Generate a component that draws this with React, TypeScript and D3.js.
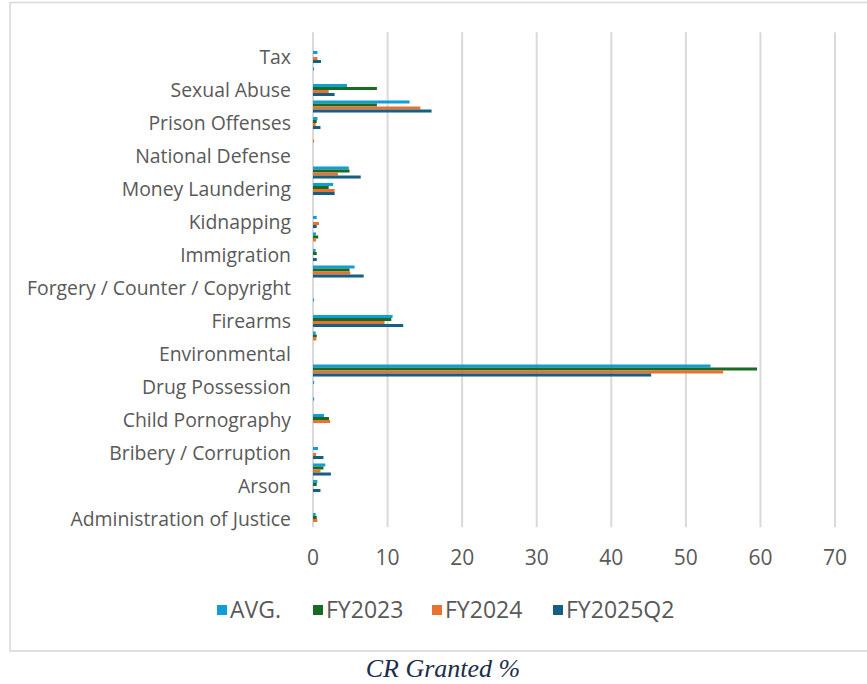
import React, { useEffect, useRef } from "react";
import * as d3 from "d3";

// Offense categories, bottom to top (first category sits at the bottom of the axis)
const categories = [
  "Administration of Justice",
  "Antitrust",
  "Arson",
  "Assault",
  "Bribery / Corruption",
  "Burglary / Trespass",
  "Child Pornography",
  "Commercialized Vice",
  "Drug Possession",
  "Drug Trafficking",
  "Environmental",
  "Extortion / Racketeering",
  "Firearms",
  "Food and Drug",
  "Forgery / Counter / Copyright",
  "Fraud / Theft / Embezzlement",
  "Immigration",
  "Individual Rights",
  "Kidnapping",
  "Manslaughter",
  "Money Laundering",
  "Murder",
  "National Defense",
  "Obscenity / Other Sex Offenses",
  "Prison Offenses",
  "Robbery",
  "Sexual Abuse",
  "Stalking / Harassing",
  "Tax",
  "Other",
];

// Share of compassionate-release grants (%) per category
const avg = [0.36, 0, 0.58, 1.65, 0.67, 0, 1.47, 0.15, 0.15, 53.3, 0, 0.36, 10.67, 0.15, 0, 5.58, 0.35, 0.4, 0.5, 0, 2.7, 4.8, 0, 0, 0.6, 12.95, 4.55, 0.15, 0.6, 0];
const fy2023 = [0.5, 0, 0.5, 1.4, 0, 0, 2.14, 0, 0, 59.55, 0, 0.5, 10.5, 0, 0, 4.9, 0.5, 0.7, 0, 0, 2.1, 4.9, 0, 0, 0.5, 8.57, 8.57, 0, 0, 0];
const fy2024 = [0.58, 0, 0, 1.0, 0.4, 0, 2.3, 0, 0, 55.0, 0, 0.45, 9.6, 0, 0, 5.0, 0, 0.4, 0.8, 0, 2.9, 3.35, 0, 0.15, 0.36, 14.4, 2.1, 0, 0.6, 0];
const fy2025q2 = [0, 0, 1.0, 2.4, 1.4, 0, 0, 0, 0, 45.35, 0, 0, 12.1, 0, 0, 6.8, 0.5, 0, 0.5, 0, 2.9, 6.4, 0, 0, 1.0, 15.9, 2.9, 0, 1.07, 0];

const seriesNames = ["AVG.", "FY2023", "FY2024", "FY2025Q2"];
const seriesColors = ["#0F9ED5", "#196B24", "#E97132", "#156082"];
const xTicks = [0, 10, 20, 30, 40, 50, 60, 70];
const chartTitle = "CR Granted %";

const W = 867;
const H = 684;
const LABEL_FONT = "'Open Sans', 'Liberation Sans', sans-serif";
const TEXT_GREY = "#595959";
const GRID = "#d9d9d9";
// Left edge of each legend entry
const LEGEND_SLOTS = [217, 313, 432, 553];

export default function App() {
  const ref = useRef<SVGSVGElement>(null);

  useEffect(() => {
    const svg = d3.select(ref.current);
    svg.selectAll("*").remove();

    const seriesValues = [avg, fy2023, fy2024, fy2025q2];

    // Chart frame
    svg
      .append("rect")
      .attr("x", 10)
      .attr("y", 2.5)
      .attr("width", 870)
      .attr("height", 648.5)
      .attr("fill", "#fff")
      .attr("stroke", GRID)
      .attr("stroke-width", 1.6);

    const plotTop = 32.25;
    const plotBottom = 527.25;

    const x = d3.scaleLinear().domain([0, 70]).range([313, 835]);

    const y = d3
      .scaleBand<string>()
      .domain([...categories].reverse())
      .range([plotTop, plotBottom])
      .paddingInner(0.27)
      .paddingOuter(0.135);

    const ySeries = d3
      .scaleBand<string>()
      .domain(seriesNames)
      .range([0, y.bandwidth()]);

    // Vertical gridlines
    svg
      .append("g")
      .selectAll("line")
      .data(xTicks)
      .join("line")
      .attr("x1", (d) => x(d))
      .attr("x2", (d) => x(d))
      .attr("y1", plotTop)
      .attr("y2", plotBottom)
      .attr("stroke", GRID)
      .attr("stroke-width", 2);

    // Bars
    const groups = svg
      .append("g")
      .selectAll("g")
      .data(categories)
      .join("g")
      .attr("transform", (c) => `translate(0,${y(c)})`);

    groups
      .selectAll("rect")
      .data((c) =>
        seriesNames.map((s, k) => ({ s, k, v: seriesValues[k][categories.indexOf(c)] }))
      )
      .join("rect")
      .attr("x", x(0))
      .attr("y", (d) => ySeries(d.s)!)
      .attr("width", (d) => Math.max(0, x(d.v) - x(0)))
      .attr("height", ySeries.bandwidth())
      .attr("fill", (d) => seriesColors[d.k]);

    // Category labels: every second category is labelled
    svg
      .append("g")
      .selectAll("text")
      .data(categories.filter((_, i) => i % 2 === 0))
      .join("text")
      .attr("x", 291)
      .attr("y", (c) => y(c)! + y.bandwidth() / 2)
      .attr("dy", "0.35em")
      .attr("text-anchor", "end")
      .attr("font-family", LABEL_FONT)
      .attr("font-size", 19.4)
      .attr("fill", TEXT_GREY)
      .text((c) => c);

    // Value axis tick labels
    svg
      .append("g")
      .selectAll("text")
      .data(xTicks)
      .join("text")
      .attr("x", (d) => x(d))
      .attr("y", 565)
      .attr("text-anchor", "middle")
      .attr("font-family", LABEL_FONT)
      .attr("font-size", 21)
      .attr("fill", TEXT_GREY)
      .text((d) => String(d));

    // Legend below the axis
    const items = svg
      .append("g")
      .selectAll("g")
      .data(seriesNames)
      .join("g")
      .attr("transform", (_, i) => `translate(${LEGEND_SLOTS[i]},610)`);
    items
      .append("rect")
      .attr("width", 10)
      .attr("height", 10)
      .attr("y", -5)
      .attr("fill", (_, i) => seriesColors[i]);
    items
      .append("text")
      .attr("x", 13)
      .attr("dy", "0.36em")
      .attr("font-family", LABEL_FONT)
      .attr("font-size", 23)
      .attr("fill", TEXT_GREY)
      .text((d) => d);

    // Caption below the frame
    svg
      .append("text")
      .attr("x", 443)
      .attr("y", 677)
      .attr("text-anchor", "middle")
      .attr("font-family", "'Liberation Serif', 'DejaVu Serif', serif")
      .attr("font-style", "italic")
      .attr("font-size", 26)
      .attr("fill", "#1b2e4a")
      .text(chartTitle);
  }, []);

  return (
    <svg
      ref={ref}
      width={W}
      height={H}
      style={{ position: "absolute", left: 0, top: 0, background: "#fff" }}
    />
  );
}
